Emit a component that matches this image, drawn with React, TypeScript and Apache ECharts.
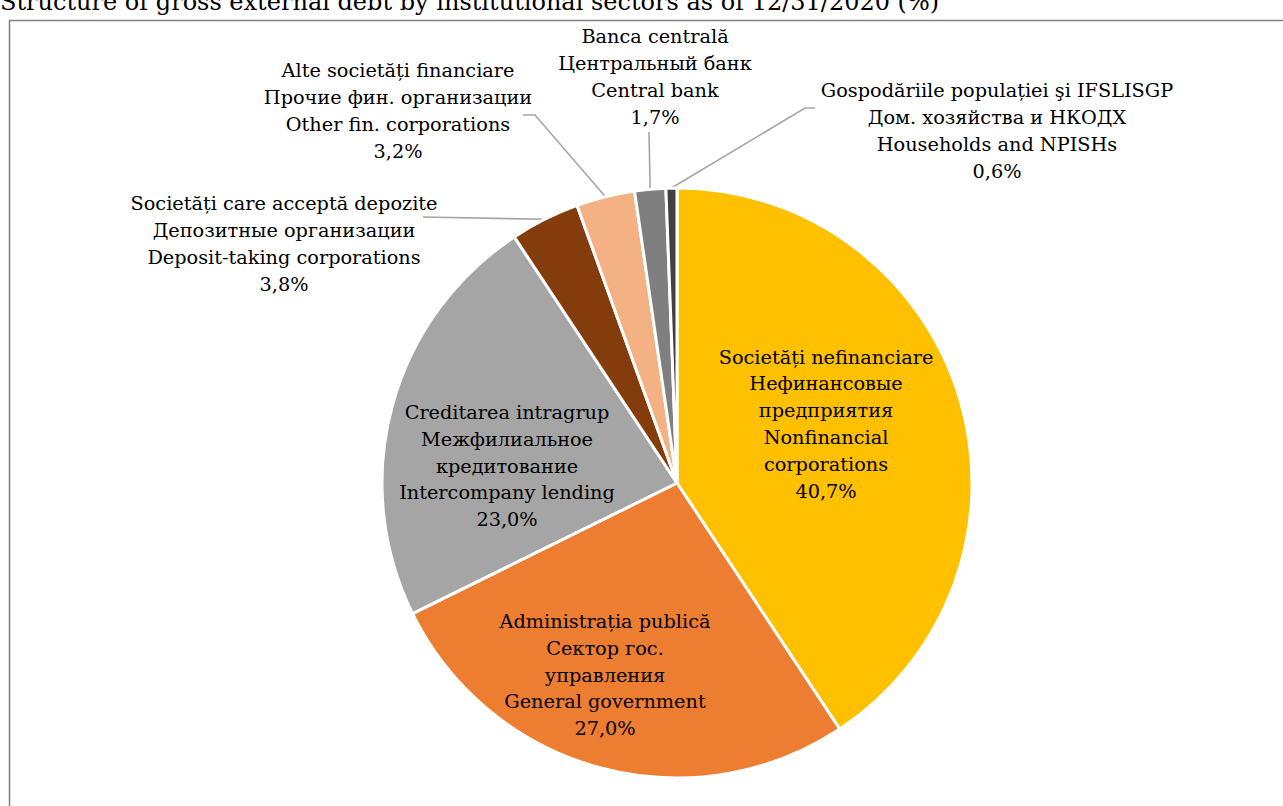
import React, { useEffect, useRef } from "react";
import * as echarts from "echarts";

const TITLE = "Structure of gross external debt by institutional sectors as of 12/31/2020 (%)";

const categories = [
  "Societăți nefinanciare\nНефинансовые\nпредприятия\nNonfinancial\ncorporations",
  "Administrația publică\nСектор гос.\nуправления\nGeneral government",
  "Creditarea intragrup\nМежфилиальное\nкредитование\nIntercompany lending",
  "Societăți care acceptă depozite\nДепозитные организации\nDeposit-taking corporations",
  "Alte societăți financiare\nПрочие фин. организации\nOther fin. corporations",
  "Banca centrală\nЦентральный банк\nCentral bank",
  "Gospodăriile populației şi IFSLISGP\nДом. хозяйства и НКОДХ\nHouseholds and NPISHs",
];
const values = [40.7, 27.0, 23.0, 3.8, 3.2, 1.7, 0.6];
const colors = ["#FFC000", "#ED7D31", "#A5A5A5", "#843C0C", "#F4B183", "#7F7F7F", "#404040"];
const outside = [false, false, false, true, true, true, true];

// label placement (layout only): label centre and leader-line bend points
const labelCentres: [number, number][] = [
  [826, 424],
  [605, 675],
  [507, 466],
  [284, 244],
  [398, 111],
  [655, 77],
  [997, 131],
];
const leaderBends: [number, number][][] = [
  [],
  [],
  [],
  [[423, 217]],
  [[535, 115], [523, 115]],
  [[649, 132]],
  [[805, 108], [815, 108]],
];

const FONT = "DejaVu Serif";

export default function App() {
  const ref = useRef<HTMLDivElement>(null);
  useEffect(() => {
    if (!ref.current) return;
    const chart = echarts.init(ref.current, undefined, { renderer: "svg" });
    const data = categories.map((name, i) => ({
      name,
      value: values[i],
      itemStyle: { color: colors[i] },
      label: { position: outside[i] ? "outside" : "inside" },
      labelLine: { show: outside[i] },
    }));
    chart.setOption({
      animation: false,
      backgroundColor: "#ffffff",
      graphic: [
        {
          type: "rect",
          silent: true,
          z: -1,
          shape: { x: 9.5, y: 20.5, width: 1400, height: 1000 },
          style: { fill: "none", stroke: "#808080", lineWidth: 1.5 },
        },
        {
          type: "text",
          x: 0,
          y: 14,
          style: {
            text: TITLE,
            font: `24px "${FONT}"`,
            fill: "#000000",
            verticalAlign: "bottom",
            align: "left",
          },
        },
      ],
      series: [
        {
          type: "pie",
          center: [677, 483],
          radius: 295,
          startAngle: 90,
          clockwise: true,
          avoidLabelOverlap: false,
          itemStyle: { borderColor: "#ffffff", borderWidth: 3 },
          label: {
            show: true,
            color: "#000000",
            fontFamily: FONT,
            fontSize: 19.3,
            lineHeight: 26.8,
            align: "center",
            formatter: (p: any) => `${p.name}\n${p.value.toFixed(1).replace(".", ",")}%`,
          },
          labelLine: {
            show: true,
            lineStyle: { color: "#A6A6A6", width: 1.6 },
          },
          labelLayout: (p: any) => {
            const i = p.dataIndex;
            const [x, y] = labelCentres[i];
            const res: any = { x, y, align: "center", verticalAlign: "middle" };
            if (outside[i] && p.labelLinePoints) {
              res.labelLinePoints = [p.labelLinePoints[0], ...leaderBends[i]];
            }
            return res;
          },
          data,
        },
      ],
    });
    return () => chart.dispose();
  }, []);
  return (
    <div
      ref={ref}
      style={{ position: "fixed", left: 0, top: 0, width: 1283, height: 806, background: "#fff" }}
    />
  );
}
